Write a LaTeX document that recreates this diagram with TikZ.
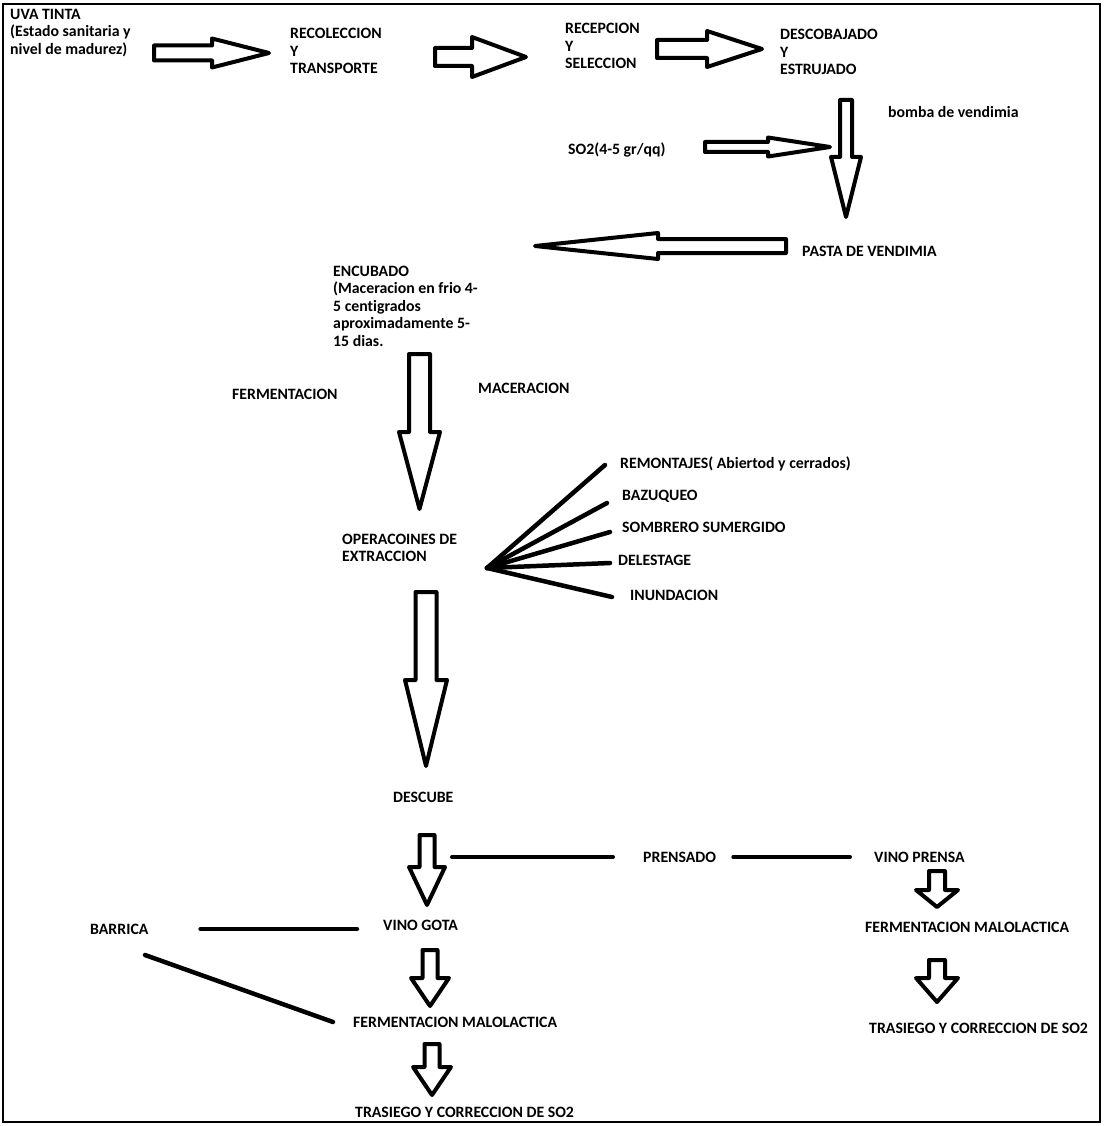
\documentclass[tikz,border=0pt]{standalone}
\usepackage{fontspec}
\setmainfont{Carlito}[Ligatures=NoCommon]
\usetikzlibrary{positioning}

% hollow block arrows (outline only)
\newcommand{\blkdown}[6]{% cx, ytop, ybase, ytip, half shaft, half head
  \draw[blk] ({#1-#5},#2) -- ({#1+#5},#2) -- ({#1+#5},#3) -- ({#1+#6},#3) -- (#1,#4)
    -- ({#1-#6},#3) -- ({#1-#5},#3) -- cycle;}
\newcommand{\blkside}[6]{% x0, xbase, xtip, cy, half shaft, half head
  \draw[blk] (#1,{#4-#5}) -- (#2,{#4-#5}) -- (#2,{#4-#6}) -- (#3,#4) -- (#2,{#4+#6})
    -- (#2,{#4+#5}) -- (#1,{#4+#5}) -- cycle;}

\begin{document}
\begin{tikzpicture}[x=1pt,y=-1pt,font=\bfseries\fontsize{15.8}{17.5}\selectfont]
  \tikzset{lbl/.style={anchor=west,inner sep=0pt,align=left},
           blk/.style={draw,line width=4pt,fill=white,line join=round},
           link/.style={line width=4.5pt,line cap=round}}
  \useasboundingbox (0,0) rectangle (1104,1126);
  \draw[line width=2.5pt] (3,4) rectangle (1100,1122);

  % top row
  \node[lbl] (uva) at (10,33) {UVA TINTA\\(Estado sanitaria y\\nivel de madurez)};
  \node[lbl] (recol) at (290,51) {RECOLECCION\\Y\\TRANSPORTE};
  \node[lbl] (recep) at (565,46) {RECEPCION\\Y\\SELECCION};
  \node[lbl] (descob) at (780,52) {DESCOBAJADO\\Y\\ESTRUJADO};
  \blkside{154}{212}{269}{53}{7.5}{14.5}
  \blkside{435}{472}{526}{57}{9}{20}
  \blkside{657}{707}{762}{49}{9}{18}

  % bomba + SO2
  \node[lbl] (bomba) at (888,112) {bomba de vendimia};
  \node[lbl] (so2) at (568,150) {SO2(4-5 gr/qq)};
  \blkside{705}{768}{830}{147}{5}{9.5}
  \blkdown{846}{100}{157}{217}{6}{15}
  \node[lbl] (pasta) at (802,251) {PASTA DE VENDIMIA};
  \blkside{786}{658}{535}{246}{7}{13}

  % encubado
  \node[lbl] (encub) at (333,306) {ENCUBADO\\(Maceracion en frio 4-\\5 centigrados\\aproximadamente 5-\\15 dias.};
  \node[lbl] (ferm) at (232,394) {FERMENTACION};
  \node[lbl] (macer) at (478,388) {MACERACION};
  \blkdown{419.5}{354}{432}{509}{10.5}{20.5}

  % extraccion
  \node[lbl] (oper) at (342,548) {OPERACOINES DE\\EXTRACCION};
  \coordinate (fan) at (487,568);
  \node[lbl] (remont) at (620,464) {REMONTAJES( Abiertod y cerrados)};
  \node[lbl] (bazuq) at (622,496) {BAZUQUEO};
  \node[lbl] (sombr) at (622,527) {SOMBRERO SUMERGIDO};
  \node[lbl] (deles) at (618,560) {DELESTAGE};
  \node[lbl] (inund) at (630,595) {INUNDACION};
  \draw[link] (fan) -- ([xshift=-15pt,yshift=-1pt]remont.west);
  \draw[link] (fan) -- ([xshift=-15pt,yshift=-7pt]bazuq.west);
  \draw[link] (fan) -- ([xshift=-12pt,yshift=-5pt]sombr.west);
  \draw[link] (fan) -- ([xshift=-8pt,yshift=-3pt]deles.west);
  \draw[link] (fan) -- ([xshift=-18pt,yshift=-2pt]inund.west);
  \blkdown{426}{592}{680}{766}{10.5}{21}

  % descube, prensado
  \node[lbl] (descube) at (393,797) {DESCUBE};
  \node[lbl] (prensado) at (643,857) {PRENSADO};
  \node[lbl] (vprensa) at (874,857) {VINO PRENSA};
  \coordinate (gota-in) at (452,857);
  \draw[link,line width=4pt] (gota-in) -- ([xshift=-30pt]prensado.west);
  \draw[link,line width=4pt,shorten <=17pt,shorten >=24pt] (prensado.east) -- (vprensa.west);
  \blkdown{427}{835}{867}{905}{7.5}{18}

  % vino gota branch
  \node[lbl] (barrica) at (90,929) {BARRICA};
  \node[lbl] (vgota) at (383,925) {VINO GOTA};
  \node[lbl] (fermL) at (353,1022) {FERMENTACION MALOLACTICA};
  \node[lbl] (trasL) at (355,1112) {TRASIEGO Y CORRECCION DE SO2};
  \coordinate (barr-d) at (145,955);
  \draw[link,shorten <=52pt,shorten >=26pt] (barrica.east) -- (barrica.east -| vgota.west);
  \draw[link] (barr-d) -- ([xshift=-20pt]fermL.west);
  \blkdown{430}{950}{978}{1006}{7.5}{19}
  \blkdown{432}{1044}{1067}{1095}{7.5}{19}

  % vino prensa branch
  \node[lbl] (fermR) at (865,927) {FERMENTACION MALOLACTICA};
  \node[lbl] (trasR) at (869,1028) {TRASIEGO Y CORRECCION DE SO2};
  \blkdown{937}{871}{890}{907}{8}{21}
  \blkdown{937}{960}{978}{1002}{8}{21}
\end{tikzpicture}
\end{document}
